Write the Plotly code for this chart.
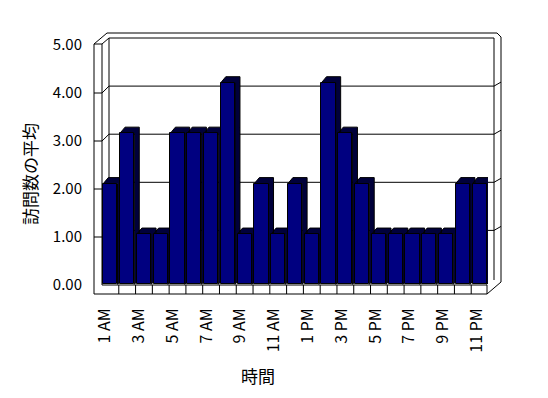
import plotly.graph_objects as go

# ---------------- data ----------------
hours = ["1 AM", "2 AM", "3 AM", "4 AM", "5 AM", "6 AM", "7 AM", "8 AM", "9 AM", "10 AM",
         "11 AM", "12 PM", "1 PM", "2 PM", "3 PM", "4 PM", "5 PM", "6 PM", "7 PM", "8 PM",
         "9 PM", "10 PM", "11 PM"]
visits = [2, 3, 1, 1, 3, 3, 3, 4, 1, 2, 1, 2, 1, 4, 3, 2, 1, 1, 1, 1, 1, 2, 2]
value_ticks = [0, 1, 2, 3, 4, 5]
value_tick_text = ["0.00", "1.00", "2.00", "3.00", "4.00", "5.00"]
x_title = "時間"
y_title = "訪問数の平均"

# ---------------- geometry (pixels) ----------------
W, H = 548, 398
FONT = "Noto Sans CJK JP"
n = len(hours)
idx = list(range(n))


def fx(x):
    return x / W


def fy(y):
    return 1 - y / H


# bar (front) plane
BAR_X0, BAR_X1 = 102.0, 488.0
BAR_BASE, BAR_UNIT = 284.5, 50.45
BAR_YMAX = 5.5
cat_px = (BAR_X1 - BAR_X0) / n
bar_w = 0.846
dx = 5.0 / cat_px
dy = 6.0 / BAR_UNIT

# front value plane (tick labels) and back wall (gridlines)
FRONT_BASE, FRONT_UNIT = 285.0, 48.0
BACK_BASE, BACK_UNIT = 278.5, 48.1
LW_OUT, LW_IN, BW_L, BW_R, OUT_R = 94, 102, 109, 494, 501
FLOOR_TOP, FLOOR_BOT, FLOOR_R = 285, 294, 487

fig = go.Figure()

# 3D tops and right sides of the columns (behind the front faces)
px_, py_ = [], []
for i, v in zip(idx, visits):
    L, R = i - bar_w / 2, i + bar_w / 2
    px_ += [L, L + dx, R + dx, R + dx, R, R, L, None]
    py_ += [v, v + dy, v + dy, dy, 0, v, v, None]
fig.add_trace(go.Scatter(x=px_, y=py_, mode="lines", fill="toself",
                         fillcolor="#00003a", line=dict(color="black", width=1),
                         hoverinfo="skip", showlegend=False, xaxis="x", yaxis="y"))

# front faces of the columns
fig.add_trace(go.Bar(x=idx, y=visits, width=bar_w, marker_color="#000080",
                     marker_line_color="black", marker_line_width=1,
                     showlegend=False, xaxis="x2", yaxis="y2"))

# invisible trace carrying the labelled axes
fig.add_trace(go.Scatter(x=idx, y=visits, mode="markers", marker=dict(opacity=0),
                         hoverinfo="skip", showlegend=False, xaxis="x3", yaxis="y3"))

# ---------------- frame lines ----------------
segs = []
# left wall
segs += [((LW_OUT, 44), (LW_OUT, FLOOR_BOT)), ((LW_IN, 44), (LW_IN, FLOOR_TOP)),
         ((LW_OUT, 44), (LW_IN, 44)), ((LW_OUT, 44), (107, 33)), ((LW_IN, 44), (BW_L, 38))]
# back wall
segs += [((107, 33), (497, 33)), ((497, 33), (OUT_R, 37)), ((OUT_R, 37), (OUT_R, 282)),
         ((OUT_R, 282), (FLOOR_R, FLOOR_BOT)),
         ((BW_L, 38), (BW_R, 38)), ((BW_L, 38), (BW_L, 280)), ((BW_R, 38), (BW_R, 280))]
# floor
segs += [((LW_IN, FLOOR_TOP), (FLOOR_R, FLOOR_TOP)), ((LW_OUT, FLOOR_BOT), (FLOOR_R, FLOOR_BOT)),
         ((FLOOR_R, FLOOR_TOP), (FLOOR_R, FLOOR_BOT))]
for k in range(1, n):
    xk = BAR_X0 + k * cat_px
    segs.append(((xk, FLOOR_TOP), (xk, FLOOR_BOT)))
# value gridlines on the walls
for v in value_ticks[1:-1]:
    yf = FRONT_BASE - FRONT_UNIT * v
    yb = BACK_BASE - BACK_UNIT * v
    segs += [((LW_OUT, yf), (LW_IN, yf)), ((LW_IN, yf), (BW_L, yb)),
             ((BW_L, yb), (BW_R, yb)), ((BW_R, yb), (OUT_R, yb - 4))]

shapes = [dict(type="line", xref="paper", yref="paper",
               x0=fx(a[0]), y0=fy(a[1]), x1=fx(b[0]), y1=fy(b[1]),
               line=dict(color="black", width=1), layer="below") for a, b in segs]

hidden = dict(visible=False, showgrid=False, zeroline=False, fixedrange=True, automargin=False)
bar_xdom = [fx(BAR_X0), fx(BAR_X1)]
bar_ydom = [fy(BAR_BASE), fy(BAR_BASE - BAR_UNIT * BAR_YMAX)]

lab_x0 = 96.5
lab_pitch = 16.9

fig.update_layout(
    width=W, height=H, autosize=False,
    margin=dict(l=0, r=0, t=0, b=0, pad=0, autoexpand=False),
    paper_bgcolor="white", plot_bgcolor="rgba(0,0,0,0)",
    font=dict(family=FONT, color="black", size=15),
    showlegend=False, bargap=0,
    shapes=shapes,
    xaxis=dict(domain=bar_xdom, range=[-0.5, n - 0.5], anchor="y", **hidden),
    yaxis=dict(domain=bar_ydom, range=[0, BAR_YMAX], anchor="x", **hidden),
    xaxis2=dict(domain=bar_xdom, range=[-0.5, n - 0.5], anchor="y2", overlaying="x", **hidden),
    yaxis2=dict(domain=bar_ydom, range=[0, BAR_YMAX], anchor="x2", overlaying="y", **hidden),
    xaxis3=dict(domain=[fx(lab_x0), fx(lab_x0 + lab_pitch * n)], range=[-0.5, n - 0.5],
                anchor="free", position=fy(304), showgrid=False, zeroline=False,
                showline=False, ticks="", tickmode="array", tickvals=idx[::2],
                ticktext=hours[::2], tickangle=-90, tickfont=dict(size=16),
                fixedrange=True, automargin=False),
    yaxis3=dict(domain=[fy(FRONT_BASE), fy(FRONT_BASE - FRONT_UNIT * 5)], range=[0, 5],
                anchor="free", position=fx(82), showgrid=False, zeroline=False,
                showline=False, ticks="", tickmode="array", tickvals=value_ticks,
                ticktext=value_tick_text, tickfont=dict(size=15),
                fixedrange=True, automargin=False),
    annotations=[
        dict(text=y_title, x=fx(29), y=fy(174), xref="paper", yref="paper",
             textangle=-90, showarrow=False, font=dict(size=17),
             xanchor="center", yanchor="middle"),
        dict(text=x_title, x=fx(258), y=fy(375), xref="paper", yref="paper",
             showarrow=False, font=dict(size=17), xanchor="center", yanchor="middle"),
    ],
)

fig.write_html("out.html", config=dict(displayModeBar=False),
               post_script="document.body.style.margin='0';document.body.style.overflow='hidden';")
